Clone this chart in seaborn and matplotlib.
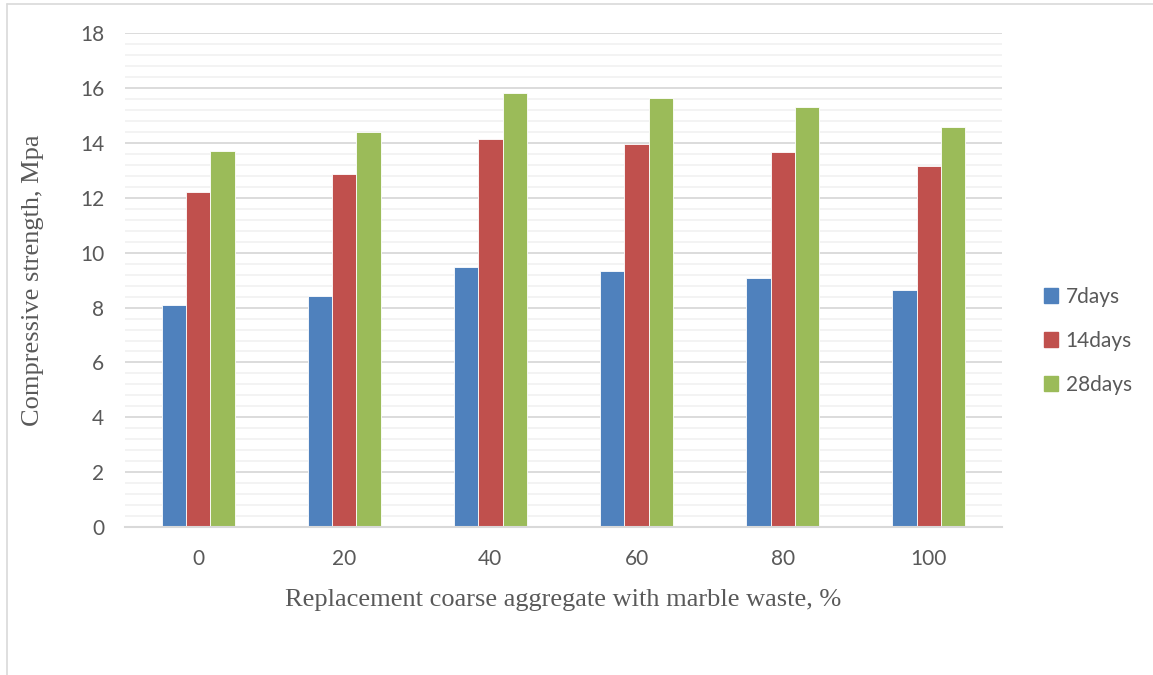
import pandas as pd
import numpy as np
import matplotlib
matplotlib.use('Agg')
import matplotlib.pyplot as plt
import seaborn as sns
from matplotlib.ticker import MultipleLocator
from matplotlib.lines import Line2D

# data
replacement = ['0', '20', '40', '60', '80', '100']
days_7 = [8.10, 8.42, 9.46, 9.34, 9.09, 8.65]
days_14 = [12.20, 12.88, 14.15, 13.95, 13.67, 13.14]
days_28 = [13.70, 14.38, 15.82, 15.65, 15.32, 14.58]
series_names = ['7days', '14days', '28days']
colors = ['#4F81BD', '#C0504D', '#9BBB59']

df = pd.DataFrame({'replacement': replacement * 3,
                   'strength': days_7 + days_14 + days_28,
                   'age': np.repeat(series_names, len(replacement))})

sns.set_style('white')
plt.rcParams['font.family'] = ['Lato', 'DejaVu Sans']

fig = plt.figure(figsize=(11.53, 6.75), dpi=100)
ax = fig.add_axes([0.1084, 0.219, 0.7606, 0.732])

sns.barplot(data=df, x='replacement', y='strength', hue='age', order=replacement,
            hue_order=series_names, palette=colors, saturation=1, width=0.5,
            edgecolor='white', linewidth=0.6, errorbar=None, ax=ax)

ax.set_ylim(0, 18)
ax.set_xlim(-0.5, 5.5)
ax.set_yticks(np.arange(0, 19, 2))
ax.yaxis.set_minor_locator(MultipleLocator(0.4))
ax.grid(which='major', axis='y', color='#D9D9D9', linewidth=1.3)
ax.grid(which='minor', axis='y', color='#F2F2F2', linewidth=1.3)
ax.set_axisbelow(True)

for side in ['left', 'right', 'top']:
    ax.spines[side].set_visible(False)
ax.spines['bottom'].set_color('#D9D9D9')
ax.spines['bottom'].set_linewidth(1.5)

ax.tick_params(axis='both', which='both', length=0, labelsize=15, labelcolor='#595959')
ax.tick_params(axis='y', pad=15)
ax.tick_params(axis='x', pad=16)

ax.set_xlabel('Replacement coarse aggregate with marble waste, %', family='Liberation Serif',
              fontsize=19, color='#595959', labelpad=14)
ax.set_ylabel('Compressive strength, Mpa', family='Liberation Serif',
              fontsize=19, color='#595959', labelpad=26)

ax.get_legend().remove()
handles = [plt.Rectangle((0, 0), 1, 1, color=c) for c in colors]
fig.legend(handles, series_names, loc='center left', bbox_to_anchor=(0.889, 0.495),
           frameon=False, fontsize=15, labelcolor='#595959', handlelength=0.7,
           handleheight=0.7, handletextpad=0.35, labelspacing=1.15)

# outer chart frame (light gray, as in the source)
fig.add_artist(Line2D([7 / 1153, 7 / 1153], [0, 1 - 4 / 675], color='#D9D9D9', lw=1.2,
                      transform=fig.transFigure))
fig.add_artist(Line2D([7 / 1153, 1], [1 - 4 / 675, 1 - 4 / 675], color='#D9D9D9', lw=1.2,
                      transform=fig.transFigure))

fig.savefig('out.png', dpi=100, facecolor='white')
